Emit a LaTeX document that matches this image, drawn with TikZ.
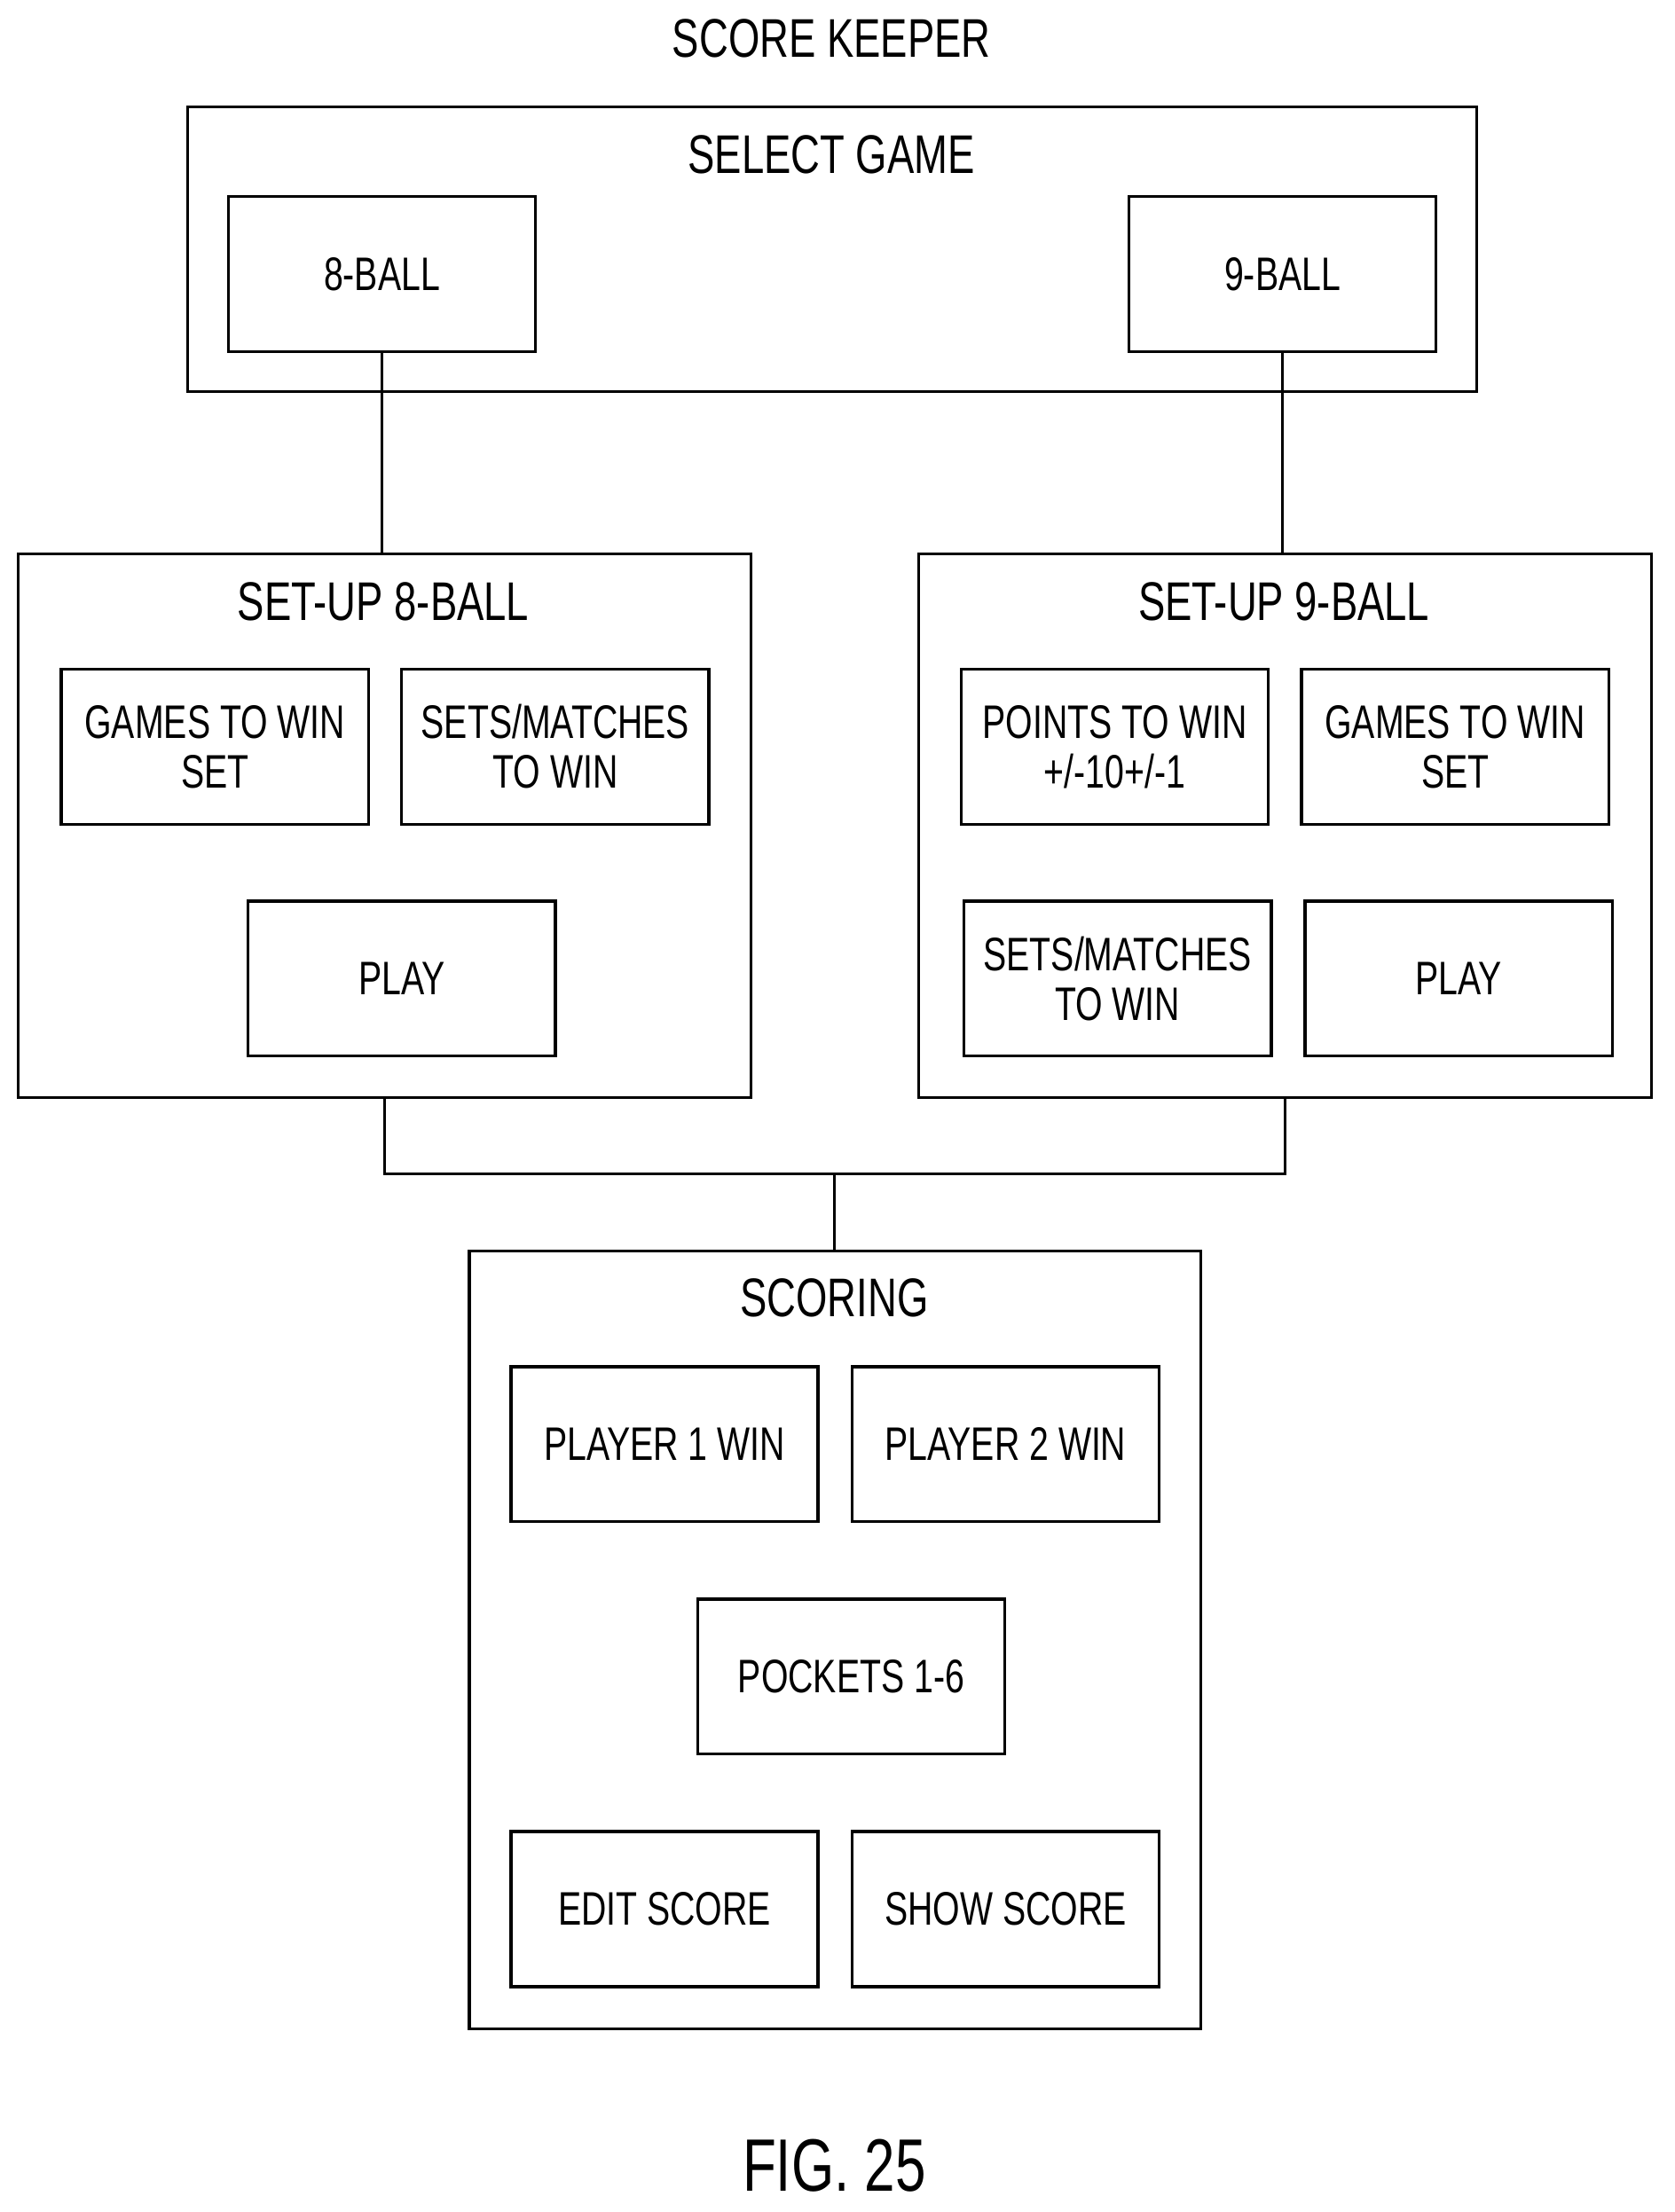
\documentclass[tikz,border=0pt]{standalone}
\usepackage{fontspec}
\setmainfont[FakeStretch=0.74]{Liberation Sans}
\usetikzlibrary{positioning}

\begin{document}
\begin{tikzpicture}[x=0.02cm, y=-0.02cm, line width=1.2pt,
    every node/.style={align=center, inner sep=0pt},
    btn/.style={draw, minimum width=4.36cm, minimum height=2.2cm, font=\fontsize{19}{20}\selectfont},
    title/.style={font=\fontsize{22}{24}\selectfont}]
    \useasboundingbox (0,0) rectangle (1188,1570);

    %Containers
    \node[draw, minimum width=18.3cm, minimum height=4.04cm] (select) at (590.5,177) {};
    \node[draw, minimum width=10.4cm, minimum height=7.72cm] (setA) at (273,586) {};
    \node[draw, minimum width=10.4cm, minimum height=7.72cm] (setB) at (912,586) {};
    \node[draw, minimum width=10.38cm, minimum height=11.04cm] (scoring) at (592.5,1164) {};

    %Titles
    \node[title] (keeper) at (590,27) {SCORE KEEPER};
    \node[title] at (590,110) {SELECT GAME};
    \node[title] at (272,427) {SET-UP 8-BALL};
    \node[title] at (911,427) {SET-UP 9-BALL};
    \node[title] at (592,921) {SCORING};
    \node[font=\fontsize{30}{32}\selectfont] (fig) at (592,1537) {FIG. 25};

    %Buttons
    \node[btn] (eight) at (271,194.5) {8-BALL};
    \node[btn] (nine) at (910,194.5) {9-BALL};
    \node[btn] (gamesA) at (152.5,530) {GAMES TO WIN\\SET};
    \node[btn] (setsA) at (394,530) {SETS/MATCHES\\TO WIN};
    \node[btn] (playA) at (285,694.5) {PLAY};
    \node[btn] (points) at (791,530) {POINTS TO WIN\\+/-10+/-1};
    \node[btn] (gamesB) at (1032.5,530) {GAMES TO WIN\\SET};
    \node[btn] (setsB) at (793,694.5) {SETS/MATCHES\\TO WIN};
    \node[btn] (playB) at (1035,694.5) {PLAY};
    \node[btn] (pone) at (471.5,1025) {PLAYER 1 WIN};
    \node[btn] (ptwo) at (713.5,1025) {PLAYER 2 WIN};
    \node[btn] (pockets) at (604,1190) {POCKETS 1-6};
    \node[btn] (edit) at (471.5,1355) {EDIT SCORE};
    \node[btn] (show) at (713.5,1355) {SHOW SCORE};

    % Edges
    \coordinate (join) at (592,833);
    \draw (eight.south) -- (eight.south |- setA.north);
    \draw (nine.south) -- (nine.south |- setB.north);
    \draw (setA.south) -- (setA.south |- join) -- (setB.south |- join) -- (setB.south);
    \draw (join) -- (join |- scoring.north);
\end{tikzpicture}
\end{document}
